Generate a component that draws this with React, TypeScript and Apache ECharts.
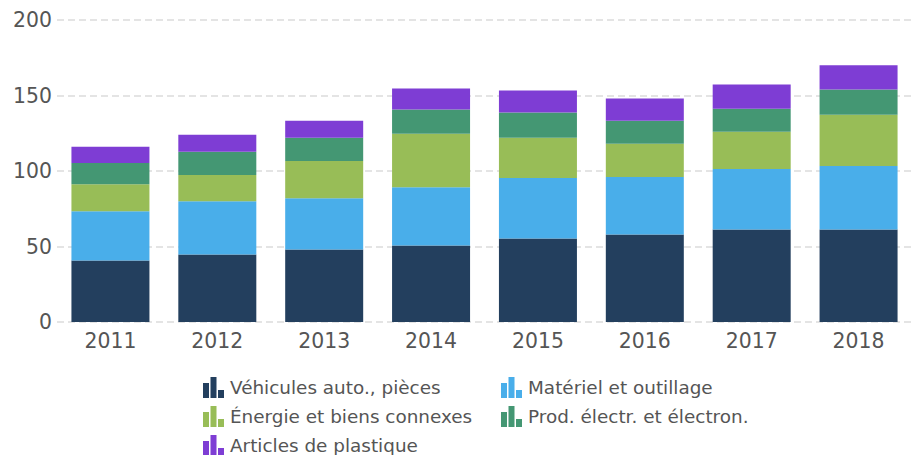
import React, { useEffect, useRef } from "react";
import * as echarts from "echarts";

const years = ["2011", "2012", "2013", "2014", "2015", "2016", "2017", "2018"];
const vehicules = [40.7, 44.7, 48, 50.7, 55.3, 58, 61.3, 61.3];
const materiel = [32.6, 35.3, 34, 38.6, 40, 38, 40, 42];
const energie = [18, 17.3, 24.7, 35.4, 26.7, 22, 24.7, 34];
const electr = [14, 15.4, 15.3, 16, 16.7, 15.3, 15.3, 16.7];
const plastique = [10.7, 11.3, 11.3, 14, 14.6, 14.7, 16, 16];

const names = [
  "Véhicules auto., pièces",
  "Matériel et outillage",
  "Énergie et biens connexes",
  "Prod. électr. et électron.",
  "Articles de plastique",
];
const colors = ["#233f5e", "#49aeea", "#98bd57", "#449773", "#7e3dd4"];
const seriesData = [vehicules, materiel, energie, electr, plastique];

const icon = "path://M0,6H6V21H0Z M7.5,0H13.5V21H7.5Z M15,13H21V21H15Z";
const FONT = "DejaVu Sans, Verdana, sans-serif";

export default function App() {
  const ref = useRef<HTMLDivElement>(null);
  useEffect(() => {
    if (!ref.current) return;
    const chart = echarts.init(ref.current, undefined, { renderer: "svg" });
    const legendCommon = {
      orient: "vertical" as const,
      top: 377,
      height: 120,
      padding: 0,
      itemWidth: 21,
      itemHeight: 21,
      itemGap: 8,
      icon,
      textStyle: { fontSize: 18.4, color: "#555", fontFamily: FONT, padding: [0, 0, 0, 1] },
    };
    chart.setOption({
      animation: false,
      color: colors,
      textStyle: { fontFamily: FONT },
      grid: { left: 57, top: 20, width: 864, height: 302 },
      legend: [
        { ...legendCommon, left: 203, data: [names[0], names[2], names[4]] },
        { ...legendCommon, left: 501, data: [names[1], names[3]] },
      ],
      xAxis: {
        type: "category",
        data: years,
        axisLine: { show: false },
        axisTick: { show: false },
        axisLabel: { fontSize: 20.4, color: "#555", margin: 9, fontFamily: FONT },
      },
      yAxis: {
        type: "value",
        min: 0,
        max: 200,
        interval: 50,
        axisLine: { show: false },
        axisTick: { show: false },
        axisLabel: { fontSize: 20.4, color: "#555", margin: 5, fontFamily: FONT },
        splitLine: { lineStyle: { color: "#dcdcdc", type: [7, 4], width: 1.5 } },
      },
      series: names.map((n, i) => ({
        name: n,
        type: "bar",
        stack: "total",
        barWidth: 78,
        data: seriesData[i],
        itemStyle: { color: colors[i] },
      })),
    });
    return () => chart.dispose();
  }, []);
  return (
    <div
      ref={ref}
      style={{ position: "fixed", left: 0, top: 0, width: 912, height: 455, background: "#fff" }}
    />
  );
}
